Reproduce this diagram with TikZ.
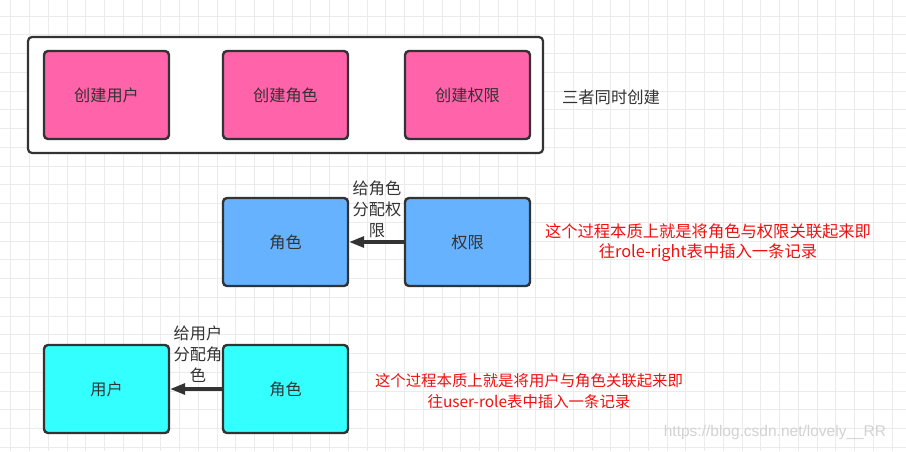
\documentclass[tikz,border=0pt]{standalone}
\usepackage{fontspec}
\setmainfont{Noto Sans CJK SC}
\newfontfamily\wmfont{Liberation Sans}
\usetikzlibrary{arrows.meta}
\definecolor{gridc}{HTML}{EBEBEB}
\definecolor{edge}{HTML}{333333}
\definecolor{pinkc}{HTML}{FF63AA}
\definecolor{bluec}{HTML}{66B2FF}
\definecolor{cyanc}{HTML}{33FFFF}
\definecolor{redc}{HTML}{F01010}
\tikzset{
  box/.style={draw=edge, line width=2.4pt, rounded corners=4pt, minimum width=125pt, minimum height=88pt, text=edge, font=\fontsize{16.2}{18}\selectfont, inner sep=0pt},
  pinkbox/.style={box, fill=pinkc},
  bluebox/.style={box, fill=bluec},
  cyanbox/.style={box, fill=cyanc},
  arr/.style={draw=edge, line width=3.2pt, -{Triangle[length=15pt,width=11pt]}},
  lbl/.style={text=edge, align=center, font=\fontsize{16.2}{21}\selectfont, inner sep=0pt},
  note/.style={text=redc, align=center, font=\fontsize{16.3}{20}\selectfont, inner sep=0pt},
  notesm/.style={note, font=\fontsize{15.4}{21}\selectfont}
}
\begin{document}
\begin{tikzpicture}[x=1pt,y=-1pt]
\useasboundingbox (0,0) rectangle (906,451);
\fill[white] (0,0) rectangle (906,451);
\foreach \k in {0,...,47} { \draw[gridc, line width=0.9pt] ({10.7+18.75*\k},0) -- ({10.7+18.75*\k},451); }
\foreach \k in {0,...,23} { \draw[gridc, line width=0.9pt] (0,{16+18.75*\k}) -- (906,{16+18.75*\k}); }

\node[draw=edge, line width=2.2pt, rounded corners=4pt, fill=white, minimum width=515pt, minimum height=116pt, inner sep=0pt] (outer) at (285.5,95) {};
\node[pinkbox] (cu) at (106.5,95) {创建用户};
\node[pinkbox] (cr) at (285.5,95) {创建角色};
\node[pinkbox] (cp) at (467.5,95) {创建权限};
\node[text=edge, font=\fontsize{16.3}{18}\selectfont, inner sep=0pt] (t3) at (611,97) {三者同时创建};

\node[bluebox] (r1) at (285.5,242) {角色};
\node[bluebox] (p1) at (467.5,242) {权限};
\draw[arr] (p1.west) -- (r1.east);
\node[lbl] (l1) at (377,209) {给角色\\分配权\\限};
\node[note] (n1) at (708,243) {这个过程本质上就是将角色与权限关联起来即\\往role-right表中插入一条记录};

\node[cyanbox] (u2) at (106.5,389) {用户};
\node[cyanbox] (r2) at (285.5,389) {角色};
\draw[arr] (r2.west) -- (u2.east);
\node[lbl] (l2) at (198,354) {给用户\\分配角\\色};
\node[notesm] (n2) at (529,391) {这个过程本质上就是将用户与角色关联起来即\\往user-role表中插入一条记录};

\node[text=gray!35, font=\wmfont\fontsize{15.5}{18}\selectfont, inner sep=0pt] (wm) at (775,432) {https://blog.csdn.net/lovely\_\_RR};
\end{tikzpicture}
\end{document}
